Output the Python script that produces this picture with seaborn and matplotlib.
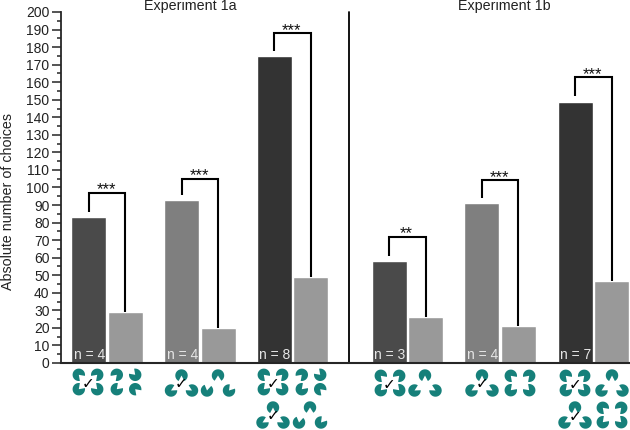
import matplotlib
matplotlib.use('Agg')
import matplotlib.pyplot as plt
from matplotlib.patches import Wedge
from matplotlib.ticker import MultipleLocator
import pandas as pd
import seaborn as sns

# values
target_counts = [83, 93, 175, 58, 91, 149]
other_counts = [29, 20, 49, 26, 21, 47]
target_shades = ['#4a4a4a', '#7f7f7f', '#333333', '#4a4a4a', '#7f7f7f', '#333333']
other_shade = '#999999'
n_labels = ['n = 4', 'n = 4', 'n = 8', 'n = 3', 'n = 4', 'n = 7']
stars = ['***', '***', '***', '**', '***', '***']
bracket_tops = [97, 105, 188, 72, 104, 163]
experiments = ['Experiment 1a', 'Experiment 1b']

TEAL = '#16807a'

sns.set_style('ticks')
plt.rcParams['font.family'] = ['Liberation Sans', 'DejaVu Sans']
plt.rcParams['font.size'] = 10

W, H = 630, 430
fig = plt.figure(figsize=(W / 100, H / 100), dpi=100)
ax = fig.add_axes([61 / W, 1 - 363 / H, (W - 61) / W, (363 - 12) / H])

# x axis runs in reference pixels, one bar is 36.5 wide
group_centers = [107, 200, 292.5, 407.5, 500, 593.5]
bar_step = 36.5

rows = []
for i, c in enumerate(group_centers):
    rows.append({'pos': c - bar_step / 2, 'count': target_counts[i], 'shade': target_shades[i]})
    rows.append({'pos': c + bar_step / 2, 'count': other_counts[i], 'shade': other_shade})
df = pd.DataFrame(rows)

shades = {s: s for s in df['shade'].unique()}
sns.barplot(data=df, x='pos', y='count', hue='shade', palette=shades, native_scale=True,
            dodge=False, width=0.95, saturation=1, legend=False, ax=ax)

ax.set_xlim(61, W)
ax.set_ylim(0, 200)
ax.set_xlabel('')
ax.set_ylabel('Absolute number of choices', fontsize=10.3, labelpad=8, color='#222222', y=0.459)
ax.set_xticks([])
ax.yaxis.set_major_locator(MultipleLocator(10))
ax.yaxis.set_minor_locator(MultipleLocator(5))
ax.tick_params(axis='y', which='major', length=6.3, width=1.1, pad=2, labelsize=10, labelcolor='#222222')
ax.tick_params(axis='y', which='minor', length=3, width=1.1)
sns.despine(ax=ax)
ax.spines['left'].set_linewidth(1.3)
ax.spines['bottom'].set_linewidth(1.5)

# divider between the two experiments
ax.plot([349, 349], [0, 200], color='black', lw=1.3, clip_on=False)

ax.text(190.5, 203.2, experiments[0], ha='center', va='center', fontsize=10.3, color='#222222', clip_on=False)
ax.text(504, 203.2, experiments[1], ha='center', va='center', fontsize=10.3, color='#222222', clip_on=False)

for i, c in enumerate(group_centers):
    x0 = c - bar_step / 2
    x1 = c + bar_step / 2
    ax.plot([x0, x0, x1, x1],
            [target_counts[i] + 3, bracket_tops[i], bracket_tops[i], other_counts[i]],
            color='black', lw=1.5, solid_joinstyle='miter', solid_capstyle='butt')
    ax.text(c - 1, bracket_tops[i] - 2.7, stars[i], ha='center', va='bottom', fontsize=12, color='#111111')
    ax.text(x0 - 15, 0.8, n_labels[i], ha='left', va='bottom', fontsize=10, color='#e6e6e6')

# stimulus icons go on an overlay in reference pixels
icons = fig.add_axes([0, 0, 1, 1], facecolor='none')
icons.set_xlim(0, W)
icons.set_ylim(H, 0)
icons.axis('off')


def pacmen(cx, cy, layout, radius=6.2):
    for dx, dy, mouth, spread in layout:
        # y axis is inverted here, so the wedge angles are mirrored
        a = -mouth
        icons.add_patch(Wedge((cx + dx, cy + dy), radius, a + spread / 2, a - spread / 2 + 360,
                              facecolor=TEAL, edgecolor='none'))


square = [(-9.2, -7.2, -45, 70), (9.2, -7.2, -135, 70), (-9.2, 7.2, 45, 70), (9.2, 7.2, 135, 70)]
square_mixed = [(-9.2, -7.2, 225, 70), (9.2, -7.2, 135, 70), (-9.2, 7.2, 45, 70), (9.2, 7.2, -45, 70)]
triangle = [(0, -7.5, -90, 55), (-10.5, 7.5, 30, 55), (10.5, 7.5, 150, 55)]
triangle_mixed = [(0, -7.5, -90, 65), (-11, 7.5, 80, 65), (11, 7.5, 50, 65)]


def tick_mark(x, y):
    icons.text(x, y, '\u2713', ha='center', va='center', fontsize=11, fontweight='bold',
               family='DejaVu Sans', color='black')


pacmen(88, 382, square)
tick_mark(88, 384)
pacmen(126, 382, square_mixed)
pacmen(181.5, 383, triangle)
tick_mark(181, 384)
pacmen(218, 383, triangle_mixed)
pacmen(273, 382, square)
tick_mark(273, 384)
pacmen(311, 382, square_mixed)
pacmen(273, 415, triangle)
tick_mark(273, 416)
pacmen(310, 415, triangle_mixed)

pacmen(390, 383, square)
tick_mark(389, 385)
pacmen(425, 383, triangle)
pacmen(482, 383, triangle)
tick_mark(482, 384)
pacmen(520, 383, square)
pacmen(575, 383, square)
tick_mark(575, 385)
pacmen(612, 383, triangle)
pacmen(575, 415, triangle)
tick_mark(575, 417)
pacmen(612, 415, square)

fig.savefig('out.png', dpi=100)
